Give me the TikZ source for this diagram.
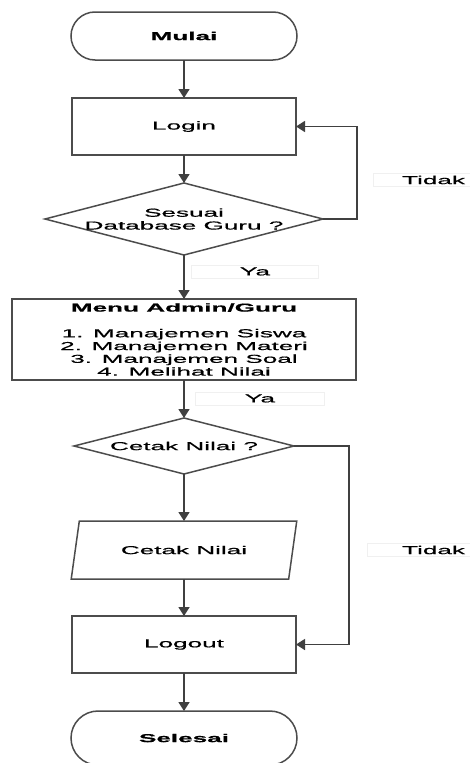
\documentclass[tikz,border=0pt]{standalone}
\usepackage{fontspec}
\setmainfont{Liberation Sans}[FakeStretch=2.27, FakeBold=0.7]
\usetikzlibrary{positioning, shapes.geometric, arrows.meta}

\begin{document}
\begin{tikzpicture}[x=1pt, y=-1pt, node distance = 38pt,
        every node/.style={font=\fontsize{11.5}{12.8}\selectfont},
        shp/.style={draw=black!70, line width=1.5pt, inner sep=0pt, outer sep=0pt, align=center},
        term/.style={shp, rectangle, rounded corners=24pt, minimum width=226pt, minimum height=48pt,
            font=\fontsize{11.5}{12.8}\selectfont\bfseries},
        proc/.style={shp, rectangle, minimum width=224pt, minimum height=57pt},
        dec/.style={shp, diamond, minimum width=278pt, minimum height=72pt},
        io/.style={shp, trapezium, trapezium left angle=60, trapezium right angle=120,
            trapezium stretches=true, minimum width=226pt, minimum height=58pt},
        lbl/.style={draw=black!6, line width=0.5pt, inner ysep=1pt, minimum height=13pt},
        arr/.style={draw=black!75, line width=1.6pt, -{Triangle[width=11pt,length=9pt]}}]

        \useasboundingbox (0,0) rectangle (470,763);

        \node[term] (mulai) at (184,36) {Mulai};

        \node[proc, below=of mulai] (login) {Login};

        \node[dec, below=28pt of login,
            label={[align=center]center:Sesuai\\Database Guru ?}] (sesuai) {};

        \node[proc, below=44pt of sesuai, minimum width=344pt, minimum height=81pt] (menu)
            {\textbf{Menu Admin/Guru}\\[12.8pt]1. Manajemen Siswa\\2. Manajemen Materi\\3. Manajemen Soal\\4. Melihat Nilai};

        \node[dec, below=of menu, minimum width=220pt, minimum height=56pt,
            label=center:{Cetak Nilai ?}] (cetak) {};

        \node[io, below=47pt of cetak] (print) {Cetak Nilai};

        \node[proc, below=37pt of print] (logout) {Logout};

        \node[term, below=of logout, minimum height=54pt, rounded corners=27pt] (selesai) {Selesai};

        % keterangan
        \node[lbl, text width=120pt, align=center] (ya1) at (255,271.5) {Ya};
        \node[lbl, text width=122pt, align=center] (ya2) at (260,398.5) {Ya};
        \node[lbl, inner xsep=5pt, text width=87pt, align=right] (tidak1) at (421.5,180) {Tidak};
        \node[lbl, inner xsep=5pt, text width=93pt, align=right] (tidak2) at (418.5,550) {Tidak};

        \draw[arr] (mulai) -- (login);
        \draw[arr] (login) -- (sesuai);
        \draw[arr] (sesuai) -- (menu);
        \draw[arr] (menu) -- (cetak);
        \draw[arr] (cetak) -- (print);
        \draw[arr] (print) -- (logout);
        \draw[arr] (logout) -- (selesai);

        \draw[arr] (sesuai.east) -- ++(34,0) |- (login.east);
        \draw[arr] (cetak.east) -- ++(55,0) |- (logout.east);

    \end{tikzpicture}
\end{document}
